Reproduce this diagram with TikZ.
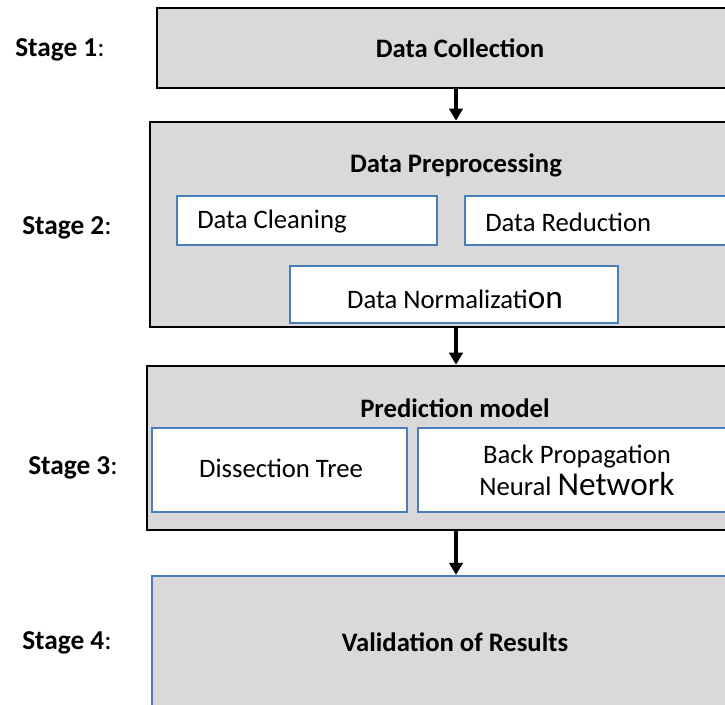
\documentclass[tikz,border=0pt]{standalone}
\usepackage{fontspec}
\setmainfont{Carlito}
\usetikzlibrary{fit,arrows.meta}
\definecolor{boxgray}{HTML}{D9D9D9}
\definecolor{subblue}{HTML}{4A7EBB}
\begin{document}
\begin{tikzpicture}[x=0.75pt,y=-0.75pt,
  stagebox/.style={draw=black,line width=2pt,fill=boxgray,inner sep=0pt},
  subbox/.style={draw=subblue,line width=1.7pt,fill=white,inner sep=0pt},
  valbox/.style={draw=subblue,line width=1.7pt,fill=boxgray,inner sep=0pt},
  title/.style={font=\bfseries\fontsize{20}{23}\selectfont,inner sep=0pt},
  body/.style={font=\fontsize{20}{23}\selectfont,inner sep=0pt},
  big/.style={font=\fontsize{20}{23}\selectfont,inner sep=0pt,align=center},
  stagelbl/.style={font=\fontsize{20.5}{23}\selectfont,anchor=west,inner sep=0pt},
  flow/.style={line width=2.8pt,-{Triangle[length=9pt,width=10pt]}}]
\useasboundingbox (0,0) rectangle (725,704);
\fill[white] (0,0) rectangle (725,704);
\clip (0,0) rectangle (725,704);
% stage labels
\node[stagelbl] (s1) at (15,50) {\textbf{Stage 1}:};
\node[stagelbl] (s2) at (22,228) {\textbf{Stage 2}:};
\node[stagelbl] (s3) at (28,468) {\textbf{Stage 3}:};
\node[stagelbl] (s4) at (22,643) {\textbf{Stage 4}:};
% stage 1
\node[stagebox,fit={(157,8)(760,88)}] (b1) {};
\node[title] (t1) at (460,48) {Data Collection};
% stage 2
\node[stagebox,fit={(150,122)(760,327)}] (b2) {};
\node[title] (t2) at (456,165) {Data Preprocessing};
\node[subbox,fit={(177,196)(437,245)}] (clean) {};
\node[body,anchor=west] at (197,222) {Data Cleaning};
\node[subbox,fit={(465,196)(760,245)}] (reduce) {};
\node[body,anchor=west] at (485,222) {Data Reduction};
\node[subbox,fit={(290,266)(618,323)}] (norm) {};
\node[body] at (455,299) {Data Normalizati{\fontsize{25}{27}\selectfont on}};
% stage 3
\node[stagebox,fit={(147,366)(760,530)}] (b3) {};
\node[title] (t3) at (455,408) {Prediction model};
\node[subbox,fit={(152,428)(407,512)}] (dtree) {};
\node[body] at (281,468) {Dissection Tree};
\node[subbox,fit={(418,428)(760,512)}] (bpnn) {};
\node[big] at (577,470) {Back Propagation\\[1pt] Neural {\fontsize{25}{27}\selectfont Network}};
% stage 4
\node[valbox,fit={(152,576)(760,760)}] (b4) {};
\node[title] (t4) at (455,642) {Validation of Results};
% arrows
\coordinate (ax) at (456,0);
\draw[flow] (b1.south -| ax) -- (b2.north -| ax);
\draw[flow] (b2.south -| ax) -- (b3.north -| ax);
\draw[flow] (b3.south -| ax) -- (b4.north -| ax);
\end{tikzpicture}
\end{document}
